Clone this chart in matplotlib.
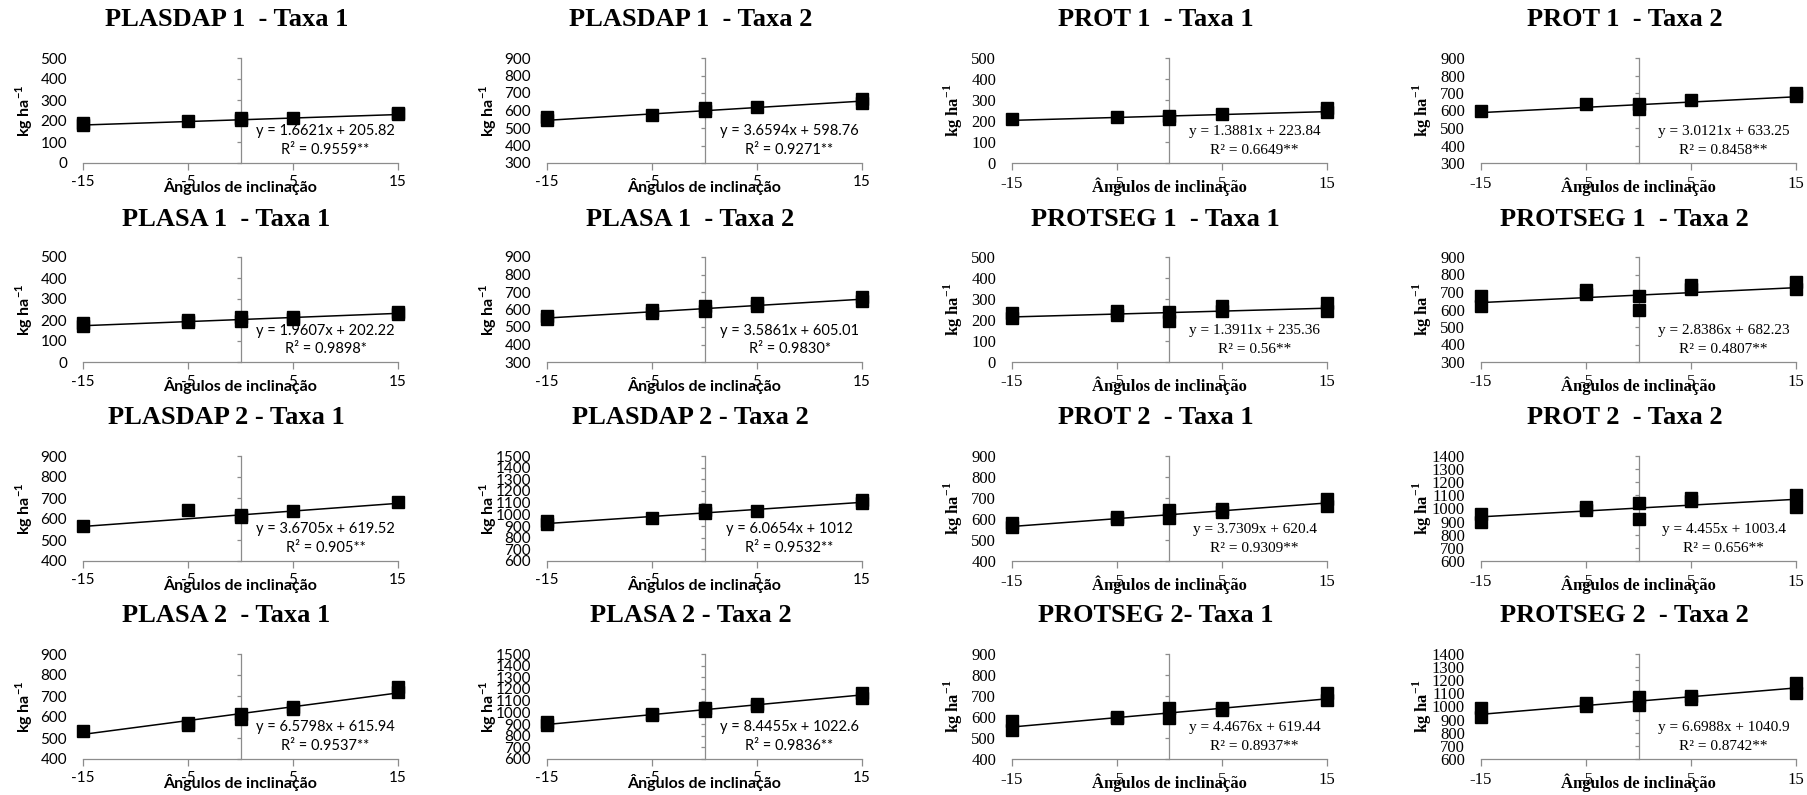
import matplotlib
matplotlib.use("Agg")
import matplotlib.pyplot as plt
import numpy as np

plt.rcParams["axes.unicode_minus"] = False

# angulos de inclinacao
angulos = [-15, -5, 0, 5, 15]

titulos = ["PLASDAP 1  - Taxa 1", "PLASDAP 1  - Taxa 2", "PROT 1  - Taxa 1", "PROT 1  - Taxa 2",
           "PLASA 1  - Taxa 1", "PLASA 1  - Taxa 2", "PROTSEG 1  - Taxa 1", "PROTSEG 1  - Taxa 2",
           "PLASDAP 2 - Taxa 1", "PLASDAP 2 - Taxa 2", "PROT 2  - Taxa 1", "PROT 2  - Taxa 2",
           "PLASA 2  - Taxa 1", "PLASA 2 - Taxa 2", "PROTSEG 2- Taxa 1", "PROTSEG 2  - Taxa 2"]

# valores observados (repeticoes) em cada angulo
pontos = [
    [[180, 190], [200], [205, 212], [215], [232, 238]],
    [[545, 560], [575], [595, 612], [618], [640, 668]],
    [[208], [220], [210, 225], [235], [245, 260]],
    [[595], [635], [610, 635], [658], [680, 700]],
    [[170, 185], [190, 200], [195, 212], [205, 215], [228, 240]],
    [[545, 565], [580, 595], [590, 620], [620, 635], [650, 670]],
    [[210, 235], [225, 245], [195, 240], [245, 265], [245, 280]],
    [[620, 680], [690, 710], [600, 680], [715, 740], [715, 760]],
    [[565], [645], [610, 620], [640], [680]],
    [[920, 945], [965], [1010, 1040], [1025], [1100, 1120]],
    [[560, 580], [600, 610], [605, 645], [635, 650], [660, 695]],
    [[900, 960], [990, 1015], [920, 1040], [1060, 1080], [1010, 1100]],
    [[535], [560, 570], [590, 615], [640, 650], [720, 745]],
    [[890, 920], [975, 990], [1010, 1040], [1055, 1070], [1120, 1165]],
    [[540, 580], [595, 600], [595, 645], [635, 645], [680, 715]],
    [[920, 990], [1005, 1030], [1010, 1070], [1060, 1080], [1100, 1180]],
]

# equacoes de regressao
inclinacao = [1.6621, 3.6594, 1.3881, 3.0121, 1.9607, 3.5861, 1.3911, 2.8386,
              3.6705, 6.0654, 3.7309, 4.455, 6.5798, 8.4455, 4.4676, 6.6988]
intercepto = [205.82, 598.76, 223.84, 633.25, 202.22, 605.01, 235.36, 682.23,
              619.52, 1012, 620.4, 1003.4, 615.94, 1022.6, 619.44, 1040.9]
r2 = ["0.9559**", "0.9271**", "0.6649**", "0.8458**", "0.9898*", "0.9830*", "0.56**", "0.4807**",
      "0.905**", "0.9532**", "0.9309**", "0.656**", "0.9537**", "0.9836**", "0.8937**", "0.8742**"]

# limites do eixo y
y_min = [0, 300, 0, 300, 0, 300, 0, 300, 400, 600, 400, 600, 400, 600, 400, 600]
y_max = [500, 900, 500, 900, 500, 900, 500, 900, 900, 1500, 900, 1400, 900, 1500, 900, 1400]

W, H = 1807, 795
fig = plt.figure(figsize=(W / 100, H / 100), dpi=100)

lefts = [83, 547, 1012, 1481]
bottoms = [163, 362, 561, 759]
aw, ah = 315, 105
cinza = "#8c8c8c"
sans = ["Lato", "DejaVu Sans"]
serif = ["Liberation Serif", "DejaVu Serif"]

for i in range(16):
    lin, col = divmod(i, 4)
    ax = fig.add_axes([lefts[col] / W, 1 - bottoms[lin] / H, aw / W, ah / H])
    fam = sans if col < 2 else serif
    fs_tick = 11 if col < 2 else 12
    fs_eq = 10.5 if col < 2 else 11
    fs_lab = 11.5 if col < 2 else 12

    # pontos
    for xv, ys in zip(angulos, pontos[i]):
        ax.plot([xv] * len(ys), ys, "s", color="black", ms=9, clip_on=False, zorder=3)

    # linha de tendencia
    xl = np.array([-15, 15])
    ax.plot(xl, inclinacao[i] * xl + intercepto[i], color="black", lw=1.1, zorder=2)

    ax.set_xlim(-15, 15)
    ax.set_ylim(y_min[i], y_max[i])
    ax.set_xticks([-15, -5, 5, 15])
    ax.set_yticks(np.arange(y_min[i], y_max[i] + 1, 100))

    for s in ["top", "right"]:
        ax.spines[s].set_visible(False)
    ax.spines["left"].set_position(("data", 0))
    ax.spines["left"].set_color(cinza)
    ax.spines["bottom"].set_color(cinza)
    ax.spines["left"].set_linewidth(0.9)
    ax.spines["bottom"].set_linewidth(0.9)

    half_pt = aw / 2 * 0.72
    ax.tick_params(axis="y", direction="out", length=3, color=cinza, width=0.9,
                   pad=half_pt + 11.5 - 3, labelsize=fs_tick)
    ax.tick_params(axis="x", direction="out", length=5, color=cinza, width=0.9,
                   pad=4, labelsize=fs_tick)
    for t in ax.get_xticklabels() + ax.get_yticklabels():
        t.set_fontfamily(fam)

    ax.text(0.5, -0.225, "Ângulos de inclinação", transform=ax.transAxes, ha="center",
            va="center", fontsize=fs_lab, fontweight="bold", family=fam)
    ax.text(-59 / aw, 0.5, "kg ha$^{\\mathregular{-1}}$", transform=ax.transAxes, rotation=90,
            ha="center", va="center", fontsize=fs_lab, fontweight="bold", family=fam)

    ax.text(0.77, 0.30, "y = {:g}x + {:g}".format(inclinacao[i], intercepto[i]),
            transform=ax.transAxes, ha="center", va="center", fontsize=fs_eq, family=fam)
    ax.text(0.77, 0.12, "R² = " + r2[i], transform=ax.transAxes, ha="center",
            va="center", fontsize=fs_eq, family=fam)

    ax.text(0.5 - 14 / aw, 1 + 38 / ah, titulos[i], transform=ax.transAxes, ha="center",
            va="center", fontsize=19, fontweight="bold", family=serif)

fig.savefig("out.png", dpi=100)
